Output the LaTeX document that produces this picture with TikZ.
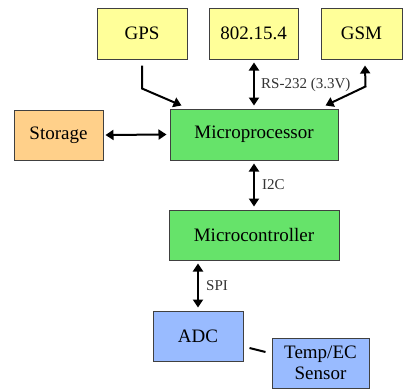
\documentclass[tikz,border=0pt]{standalone}
\usepackage{fontspec}
\setmainfont{Liberation Serif}
\usetikzlibrary{arrows.meta}
\definecolor{ylw}{HTML}{FFFF99}
\definecolor{org}{HTML}{FFD08A}
\definecolor{grn}{HTML}{66E36A}
\definecolor{blu}{HTML}{99BBFF}
\definecolor{brd}{HTML}{404040}
\tikzset{
  box/.style={draw=brd, line width=1pt, inner sep=0pt, minimum height=50pt, font=\fontsize{19}{21}\selectfont, align=center},
  conn/.style={line width=2pt, {Triangle[length=8pt,width=10pt]}-{Triangle[length=8pt,width=10pt]}},
  oneway/.style={line width=2pt, -{Triangle[length=8pt,width=10pt]}},
  lbl/.style={font=\fontsize{15}{17}\selectfont, anchor=west, inner sep=0pt, text=black!80}
}
\begin{document}
\begin{tikzpicture}[x=1pt,y=-1pt]
\useasboundingbox[fill=white] (0,0) rectangle (404,389);
\node[box, fill=ylw, minimum width=90pt, minimum height=51pt] (gps) at (142,33.5) {GPS};
\node[box, fill=ylw, minimum width=89pt, minimum height=51pt] (zig) at (253.5,33.5) {802.15.4};
\node[box, fill=ylw, minimum width=81pt, minimum height=51pt] (gsm) at (361.5,33.5) {GSM};
\node[box, fill=org, minimum width=89pt] (sto) at (58.5,135) {Storage};
\node[box, fill=grn, minimum width=168pt, minimum height=51pt] (mp) at (254,134.5) {Microprocessor};
\node[box, fill=grn, minimum width=170pt] (mc) at (254,235) {Microcontroller};
\node[box, fill=blu, minimum width=90pt] (adc) at (198,336) {ADC};
\node[box, fill=blu, minimum width=97pt] (sen) at (320.5,363) {Temp/EC\\Sensor};

\draw[oneway] ([yshift=-6pt]gps.south) -- ++(0,23) -- ([xshift=12pt,yshift=3pt]mp.north west);
\draw[conn] ([xshift=0.5pt,yshift=-3pt]zig.south) -- ([yshift=3pt]mp.north);
\draw[conn] ([xshift=-13pt,yshift=3pt]mp.north east) -- ++(40,-19) -- ([xshift=3.5pt,yshift=-6pt]gsm.south);
\draw[conn] ([xshift=2pt]sto.east) -- ([xshift=-3pt]mp.west);
\draw[conn] ([yshift=-3pt]mp.south) -- ([yshift=3pt]mc.north);
\draw[conn] ([yshift=-3pt]adc.north |- mc.south) -- ([yshift=3pt]adc.north);
\draw[line width=2pt] ([xshift=6pt,yshift=-12pt]adc.east) -- ([xshift=-6pt,yshift=11pt]sen.west);

\node[lbl] (l1) at (261,85) {RS-232 (3.3V)};
\node[lbl] (l2) at (262,185) {I2C};
\node[lbl] (l3) at (206,286) {SPI};
\end{tikzpicture}
\end{document}
